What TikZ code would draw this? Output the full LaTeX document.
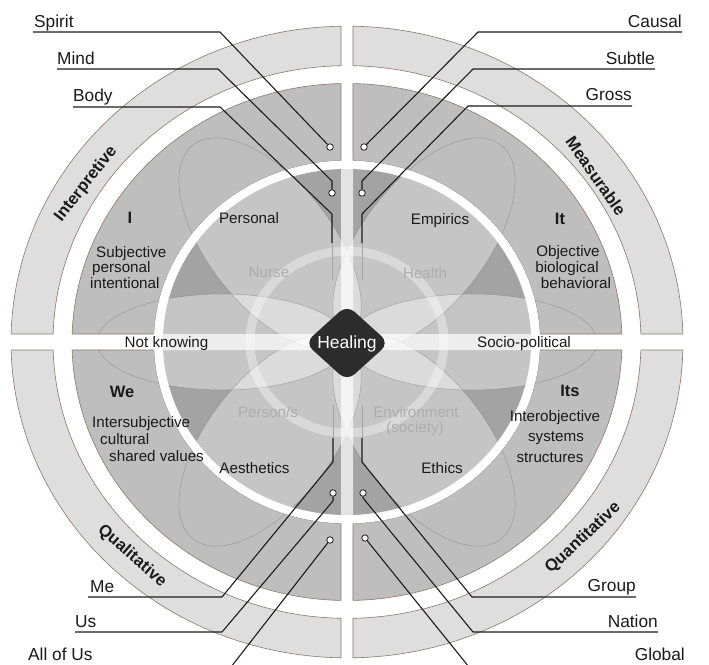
\documentclass[tikz,border=0pt]{standalone}
\usepackage{fontspec}
\setmainfont{Liberation Sans}
\usetikzlibrary{calc}
\definecolor{ringA}{HTML}{DEDEDE}
\definecolor{ringB}{HTML}{BEBEBE}
\definecolor{diskbase}{HTML}{A3A3A3}
\definecolor{edgec}{RGB}{135,120,112}
\definecolor{petalc}{HTML}{6E6E6E}
\definecolor{leadc}{HTML}{1C1C1C}
\definecolor{healc}{HTML}{2C2C2C}
\definecolor{faintc}{HTML}{ADADAD}
\definecolor{txtc}{HTML}{1A1A1A}
\def\bratio{0.94}
\def\gx{6}
\def\gy{8}
% quadrant band: #1 style, #2 outer x-radius, #3 inner x-radius, #4 base angle, #5 =1 if first gap is the horizontal one
\newcommand\qband[5]{%
  \pgfmathsetmacro\qOA{#2}%
  \pgfmathsetmacro\qOB{\bratio*#2}%
  \pgfmathsetmacro\qIA{#3}%
  \pgfmathsetmacro\qIB{\bratio*#3}%
  \ifnum#5=1\relax
    \pgfmathsetmacro\qOS{#4+asin(\gy/\qOB)}%
    \pgfmathsetmacro\qOE{#4+90-asin(\gx/\qOA)}%
    \pgfmathsetmacro\qIS{#4+asin(\gy/\qIB)}%
    \pgfmathsetmacro\qIE{#4+90-asin(\gx/\qIA)}%
  \else
    \pgfmathsetmacro\qOS{#4+asin(\gx/\qOA)}%
    \pgfmathsetmacro\qOE{#4+90-asin(\gy/\qOB)}%
    \pgfmathsetmacro\qIS{#4+asin(\gx/\qIA)}%
    \pgfmathsetmacro\qIE{#4+90-asin(\gy/\qIB)}%
  \fi
  \path[#1] ([shift={(C)}]\qOS:\qOA pt and \qOB pt)
    arc[start angle=\qOS, end angle=\qOE, x radius=\qOA pt, y radius=\qOB pt]
    -- ([shift={(C)}]\qIE:\qIA pt and \qIB pt)
    arc[start angle=\qIE, end angle=\qIS, x radius=\qIA pt, y radius=\qIB pt]
    -- cycle;
}
% petal: #1 style, #2 direction, #3 centre distance, #4 half length, #5 half width
\newcommand\petal[5]{%
  \path[#1, rotate around={#2:(C)}] ([shift={(#3pt,0pt)}]C) ellipse [x radius=#4pt, y radius=#5pt];}
\tikzset{
  ringedge/.style={draw=edgec, line width=0.6pt},
  lead/.style={draw=leadc, line width=1.1pt, line join=round},
  leadfade/.style={draw=leadc!40, line width=1.0pt},
  dotnode/.style={circle, draw=leadc, fill=white, line width=0.8pt, inner sep=0pt, minimum size=6.5pt},
  outlab/.style={font=\fontsize{17.3}{20}\selectfont, text=txtc, inner sep=0pt},
  inlab/.style={font=\fontsize{15.2}{18}\selectfont, text=txtc, inner sep=0pt},
  faintlab/.style={inlab, text=faintc},
  boldlab/.style={font=\bfseries\fontsize{16.5}{19}\selectfont, text=txtc, inner sep=0pt},
  ringlab/.style={font=\bfseries\fontsize{16.6}{19}\selectfont, text=txtc, inner sep=0pt},
  petalfill/.style={fill=white, fill opacity=0.38},
  petalline/.style={draw=petalc, line width=0.5pt, draw opacity=0.45},
}
\begin{document}
\begin{tikzpicture}[x=1pt,y=-1pt]
\useasboundingbox (0,0) rectangle (709,664);
\clip (0,0) rectangle (709,664);
\fill[white] (0,0) rectangle (709,664);
\coordinate (C) at (347,342);

% outer ring
\qband{fill=ringA,ringedge}{336}{294}{0}{1}
\qband{fill=ringA,ringedge}{336}{294}{90}{0}
\qband{fill=ringA,ringedge}{336}{294}{180}{1}
\qband{fill=ringA,ringedge}{336}{294}{270}{0}
% middle band
\qband{fill=ringB,ringedge}{275}{193}{0}{1}
\qband{fill=ringB,ringedge}{275}{193}{90}{0}
\qband{fill=ringB,ringedge}{275}{193}{180}{1}
\qband{fill=ringB,ringedge}{275}{193}{270}{0}

% petal outlines reaching into the middle band
\begin{scope}
  \clip (0,0) rectangle (341,334) (353,0) rectangle (709,334)
        (0,350) rectangle (341,664) (353,350) rectangle (709,664);
  \clip (C) ellipse [x radius=274pt, y radius=257.5pt];
  \petal{petalline}{52}{125}{125}{62}
  \petal{petalline}{128}{125}{125}{62}
  \petal{petalline}{232}{125}{125}{62}
  \petal{petalline}{308}{125}{125}{62}
  \petal{petalline}{0}{125}{125}{48}
  \petal{petalline}{180}{125}{125}{48}
\end{scope}

% white gap round the inner disk
\fill[white] (C) ellipse [x radius=193pt, y radius=181.4pt];

% inner disk
\fill[diskbase] (C) ellipse [x radius=184pt, y radius=173pt];
\begin{scope}
  \clip (C) ellipse [x radius=184pt, y radius=173pt];
  \petal{petalfill}{52}{125}{125}{62}
  \petal{petalfill}{128}{125}{125}{62}
  \petal{petalfill}{232}{125}{125}{62}
  \petal{petalfill}{308}{125}{125}{62}
  \petal{petalfill}{0}{125}{125}{48}
  \petal{petalfill}{180}{125}{125}{48}
  \petal{petalline}{52}{125}{125}{62}
  \petal{petalline}{128}{125}{125}{62}
  \petal{petalline}{232}{125}{125}{62}
  \petal{petalline}{308}{125}{125}{62}
  \petal{petalline}{0}{125}{125}{48}
  \petal{petalline}{180}{125}{125}{48}
  \fill[white, opacity=0.7] (341,0) rectangle (353,664) (0,334) rectangle (709,350);
  \draw[white, opacity=0.35, line width=9pt] (C) ellipse [x radius=97pt, y radius=91pt];
\end{scope}

% centre
\fill[healc, rounded corners=10pt] (305,343) -- (347,305) -- (389,343) -- (347,381) -- cycle;
\node[font=\fontsize{17.5}{20}\selectfont, text=white, inner sep=0pt, anchor=base] (heal) at (347,348) {Healing};

% ring labels
\node[ringlab, rotate=52] (interp) at (86,184) {Interpretive};
\node[ringlab, rotate=-55] (meas) at (596,176) {Measurable};
\node[ringlab, rotate=-41] (qual) at (132,556) {Qualitative};
\node[ringlab, rotate=43] (quant) at (583,538) {Quantitative};

% quadrant labels
\node[boldlab, anchor=base] (qI) at (130,223) {I};
\node[inlab, anchor=base west] (subj) at (96,257) {Subjective};
\node[inlab, anchor=base west] (pers) at (92,272) {personal};
\node[inlab, anchor=base west] (inten) at (90,288) {intentional};
\node[boldlab, anchor=base] (qIt) at (560,224) {It};
\node[inlab, anchor=base] (obj) at (568,256) {Objective};
\node[inlab, anchor=base] (bio) at (567,272) {biological};
\node[inlab, anchor=base] (beh) at (576,288) {behavioral};
\node[boldlab, anchor=base] (qWe) at (122,397) {We};
\node[inlab, anchor=base west] (isubj) at (92,427) {Intersubjective};
\node[inlab, anchor=base west] (cult) at (100,444) {cultural};
\node[inlab, anchor=base west] (shared) at (109,461) {shared values};
\node[boldlab, anchor=base] (qIts) at (570,396) {Its};
\node[inlab, anchor=base] (iobj) at (555,421) {Interobjective};
\node[inlab, anchor=base] (sys) at (556,441) {systems};
\node[inlab, anchor=base] (struc) at (550,462) {structures};

% inner labels
\node[inlab, anchor=base] (personal) at (249,223) {Personal};
\node[faintlab, anchor=base] (nurse) at (269,277) {Nurse};
\node[inlab, anchor=base] (empirics) at (440,224) {Empirics};
\node[faintlab, anchor=base] (health) at (425,278) {Health};
\node[inlab, anchor=base] (notknow) at (166.5,347) {Not knowing};
\node[inlab, anchor=base] (socio) at (524,347) {Socio-political};
\node[faintlab, anchor=base] (persons) at (268,417) {Person/s};
\node[inlab, anchor=base] (aesth) at (254.5,473) {Aesthetics};
\node[faintlab, anchor=base] (envir) at (416,417) {Environment};
\node[faintlab, anchor=base] (soc) at (415,432) {(society)};
\node[inlab, anchor=base] (ethics) at (442,473) {Ethics};

% leader lines
\coordinate (spA) at (33,32);  \coordinate (spB) at (220,32);
\coordinate (miA) at (57,69);  \coordinate (miB) at (218,69);  \coordinate (miK) at (332,181);
\coordinate (boA) at (73,107); \coordinate (boB) at (220,107); \coordinate (boK) at (332,214);
\coordinate (boE) at (332,243); \coordinate (boF) at (332,280);
\coordinate (caA) at (682,32); \coordinate (caB) at (478,32);
\coordinate (suA) at (655,69); \coordinate (suB) at (473,69); \coordinate (suK) at (362,181);
\coordinate (grA) at (632,106); \coordinate (grB) at (468,106); \coordinate (grK) at (362,214);
\coordinate (grE) at (362,243); \coordinate (grF) at (362,280);
\coordinate (meA) at (88,597); \coordinate (meB) at (222,597); \coordinate (meK) at (333,462);
\coordinate (meE) at (333,438); \coordinate (meF) at (333,405);
\coordinate (usA) at (75,632); \coordinate (usB) at (222,632); \coordinate (usK) at (333,501);
\coordinate (alA) at (28,667); \coordinate (alB) at (231,667);
\coordinate (gpA) at (636,597); \coordinate (gpB) at (472,597); \coordinate (gpK) at (362,462);
\coordinate (gpE) at (362,438); \coordinate (gpF) at (362,405);
\coordinate (naA) at (658,632); \coordinate (naB) at (473,632); \coordinate (naK) at (363,498);
\coordinate (glA) at (685,667); \coordinate (glB) at (469,667);

\node[dotnode] (dSpirit) at (330,147) {};
\node[dotnode] (dMind) at (332,193) {};
\node[dotnode] (dCausal) at (364,147) {};
\node[dotnode] (dSubtle) at (362,193) {};
\node[dotnode] (dUs) at (333,493) {};
\node[dotnode] (dAll) at (330,540) {};
\node[dotnode] (dNation) at (363,493) {};
\node[dotnode] (dGlobal) at (365,538) {};

\draw[lead] (spA) -- (spB) -- (dSpirit);
\draw[lead] (miA) -- (miB) -- (miK) -- (dMind);
\draw[lead] (boA) -- (boB) -- (boK) -- (boE);
\draw[leadfade] (boE) -- (boF);
\draw[lead] (caA) -- (caB) -- (dCausal);
\draw[lead] (suA) -- (suB) -- (suK) -- (dSubtle);
\draw[lead] (grA) -- (grB) -- (grK) -- (grE);
\draw[leadfade] (grE) -- (grF);
\draw[lead] (meA) -- (meB) -- (meK) -- (meE);
\draw[leadfade] (meE) -- (meF);
\draw[lead] (usA) -- (usB) -- (usK) -- (dUs);
\draw[lead] (alA) -- (alB) -- (dAll);
\draw[lead] (gpA) -- (gpB) -- (gpK) -- (gpE);
\draw[leadfade] (gpE) -- (gpF);
\draw[lead] (naA) -- (naB) -- (naK) -- (dNation);
\draw[lead] (glA) -- (glB) -- (dGlobal);

% outer labels
\node[outlab, anchor=base west] (tSpirit) at (34,27) {Spirit};
\node[outlab, anchor=base west] (tMind) at (57,64) {Mind};
\node[outlab, anchor=base west] (tBody) at (73,101) {Body};
\node[outlab, anchor=base east] (tCausal) at (682,27) {Causal};
\node[outlab, anchor=base east] (tSubtle) at (655,64) {Subtle};
\node[outlab, anchor=base east] (tGross) at (632,100.5) {Gross};
\node[outlab, anchor=base west] (tMe) at (90,592) {Me};
\node[outlab, anchor=base west] (tUs) at (75,627) {Us};
\node[outlab, anchor=base west] (tAll) at (28,660) {All of Us};
\node[outlab, anchor=base east] (tGroup) at (636,591) {Group};
\node[outlab, anchor=base east] (tNation) at (658,627) {Nation};
\node[outlab, anchor=base east] (tGlobal) at (685,660) {Global};
\end{tikzpicture}
\end{document}
